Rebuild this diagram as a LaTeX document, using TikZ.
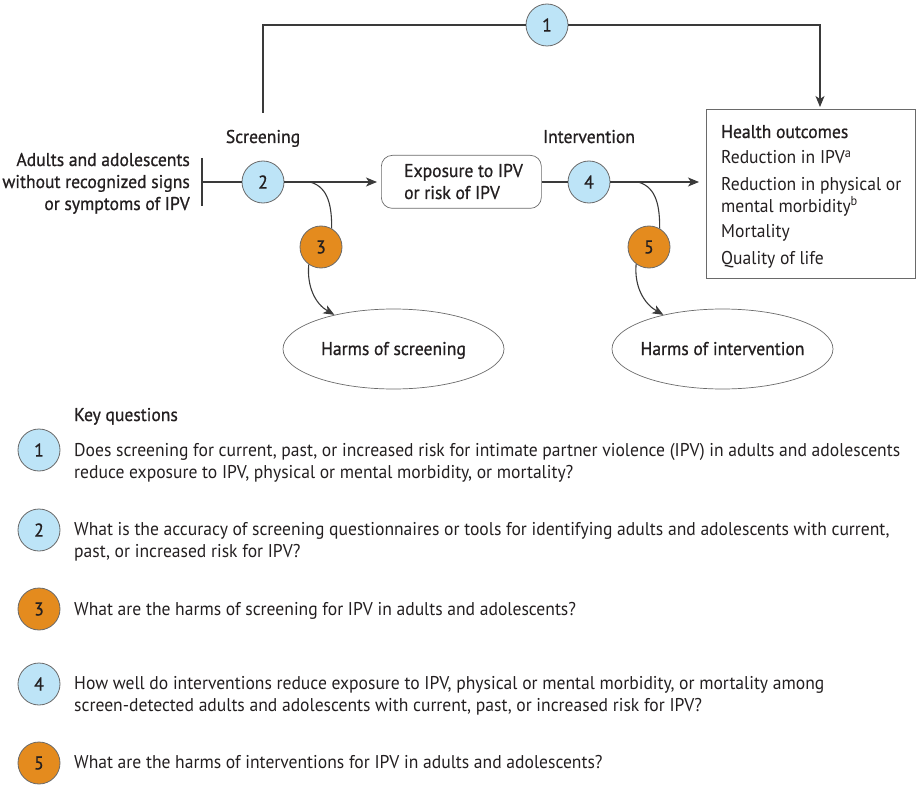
\documentclass[tikz,border=0pt]{standalone}
\usepackage{fontspec}
\setmainfont{PT Sans}[FakeStretch=0.95]
\newfontfamily\medfont{PT Sans}[FakeStretch=0.95,FakeBold=0.8]
\usetikzlibrary{shapes.geometric,arrows.meta}
\definecolor{kqblue}{HTML}{BDE4F7}
\definecolor{kqorange}{HTML}{E48B1E}
\definecolor{ink}{HTML}{231F20}
\definecolor{edgec}{HTML}{3A3A3A}
\definecolor{boxc}{HTML}{6A6A6A}
\begin{document}
\begin{tikzpicture}[x=1pt,y=-1pt,
  txt/.style={font=\fontsize{18.5}{22}\selectfont, text=ink, inner sep=0pt},
  lbl/.style={font=\medfont\fontsize{18.5}{22}\selectfont, text=ink, inner sep=0pt},
  num/.style={circle, draw=boxc, line width=0.8pt, minimum size=42pt, inner sep=0pt,
     font=\medfont\fontsize{18.5}{22}\selectfont, text=ink},
  bluenum/.style={num, fill=kqblue},
  orangenum/.style={num, fill=kqorange},
  line/.style={draw=edgec, line width=1.1pt},
  arr/.style={line, -{Stealth[length=11pt,width=9pt,inset=3pt]}},
  harm/.style={ellipse, draw=boxc, line width=0.7pt, minimum width=221pt, minimum height=80pt,
     font=\medfont\fontsize{18.5}{22}\selectfont, text=ink, inner sep=0pt}
]
\useasboundingbox (0,0) rectangle (919,789);

% ---- diagram ----
\node[bluenum] (c1) at (547,25) {1};
\node[bluenum] (c2) at (263,182) {2};
\node[orangenum] (c3) at (321,247) {3};
\node[bluenum] (c4) at (589,182) {4};
\node[orangenum] (c5) at (649,247) {5};

\node[lbl, anchor=base] (scr) at (263,143) {Screening};
\node[lbl, anchor=base] (int) at (589,143) {Intervention};

\node[lbl, anchor=base east] (p1) at (190,166) {Adults and adolescents};
\node[lbl, anchor=base east] (p2) at (190,188) {without recognized signs};
\node[lbl, anchor=base east] (p3) at (190,210) {or symptoms of IPV};

\node[draw=boxc, line width=0.7pt, rounded corners=11pt, minimum width=160pt, minimum height=53pt,
      anchor=north west, inner sep=0pt] (exp) at (381,155) {};
\node[lbl, anchor=base west] (e1) at (404,177) {Exposure to IPV};
\node[lbl, anchor=base west] (e2) at (404,199) {or risk of IPV};

\node[draw=boxc, line width=0.7pt, minimum width=209pt, minimum height=169pt,
      anchor=north west, inner sep=0pt] (ho) at (706,109) {};
\node[lbl, anchor=base west] (h0) at (721,138) {Health outcomes};
\node[txt, anchor=base west] (h1) at (721,164) {Reduction in IPV\textsuperscript{a}};
\node[txt, anchor=base west] (h2) at (721,191) {Reduction in physical or};
\node[txt, anchor=base west] (h3) at (721,212) {mental morbidity\textsuperscript{b}};
\node[txt, anchor=base west] (h4) at (721,237) {Mortality};
\node[txt, anchor=base west] (h5) at (721,264) {Quality of life};

\node[harm] (hs) at (393.5,349) {};
\node[lbl, anchor=base] (hst) at (393.5,355) {Harms of screening};
\node[harm] (hi) at (722.5,349) {};
\node[lbl, anchor=base] (hit) at (722.5,355) {Harms of intervention};

% connectors
\coordinate (t0) at (263,113);
\coordinate (t1) at (820,25);
\draw[line] (t0) |- (c1.west);
\draw[arr, shorten >=2pt] (c1.east) -- (t1) -- (t1 |- ho.north);

\coordinate (vb1) at (202,158);
\coordinate (vb2) at (202,206);
\draw[line] (vb1) -- (vb2);
\draw[line] (vb1 |- c2.west) -- (c2.west);
\draw[arr, shorten >=4pt] (c2.east) -- (exp.west |- c2.east);
\draw[line] (exp.east |- c4.west) -- (c4.west);
\draw[arr, shorten >=7pt] (c4.east) -- (ho.west |- c4.east);

\coordinate (b3) at (310,182);
\draw[line] (b3) to[out=-15, in=90] (c3.60);
\draw[arr] (c3.235) to[out=-95, in=150] (hs.150);
\coordinate (b5) at (638,182);
\draw[line] (b5) to[out=-15, in=90] (c5.60);
\draw[arr] (c5.233) to[out=-95, in=150] (hi.150);

% ---- key questions ----
\node[lbl, anchor=base west] (kq) at (74,421) {Key questions};

\node[bluenum] (q1) at (39,450) {1};
\node[bluenum] (q2) at (39,530) {2};
\node[orangenum] (q3) at (39,609) {3};
\node[bluenum] (q4) at (39,684) {4};
\node[orangenum] (q5) at (39,763) {5};

\node[txt, anchor=base west] (q1a) at (74,456) {Does screening for current, past, or increased risk for intimate partner violence (IPV) in adults and adolescents};
\node[txt, anchor=base west] (q1b) at (74,478) {reduce exposure to IPV, physical or mental morbidity, or mortality?};
\node[txt, anchor=base west] (q2a) at (74,535) {What is the accuracy of screening questionnaires or tools for identifying adults and adolescents with current,};
\node[txt, anchor=base west] (q2b) at (74,557) {past, or increased risk for IPV?};
\node[txt, anchor=base west] (q3a) at (74,615) {What are the harms of screening for IPV in adults and adolescents?};
\node[txt, anchor=base west] (q4a) at (74,689) {How well do interventions reduce exposure to IPV, physical or mental morbidity, or mortality among};
\node[txt, anchor=base west] (q4b) at (74,711) {screen-detected adults and adolescents with current, past, or increased risk for IPV?};
\node[txt, anchor=base west] (q5a) at (74,768) {What are the harms of interventions for IPV in adults and adolescents?};
\end{tikzpicture}
\end{document}
